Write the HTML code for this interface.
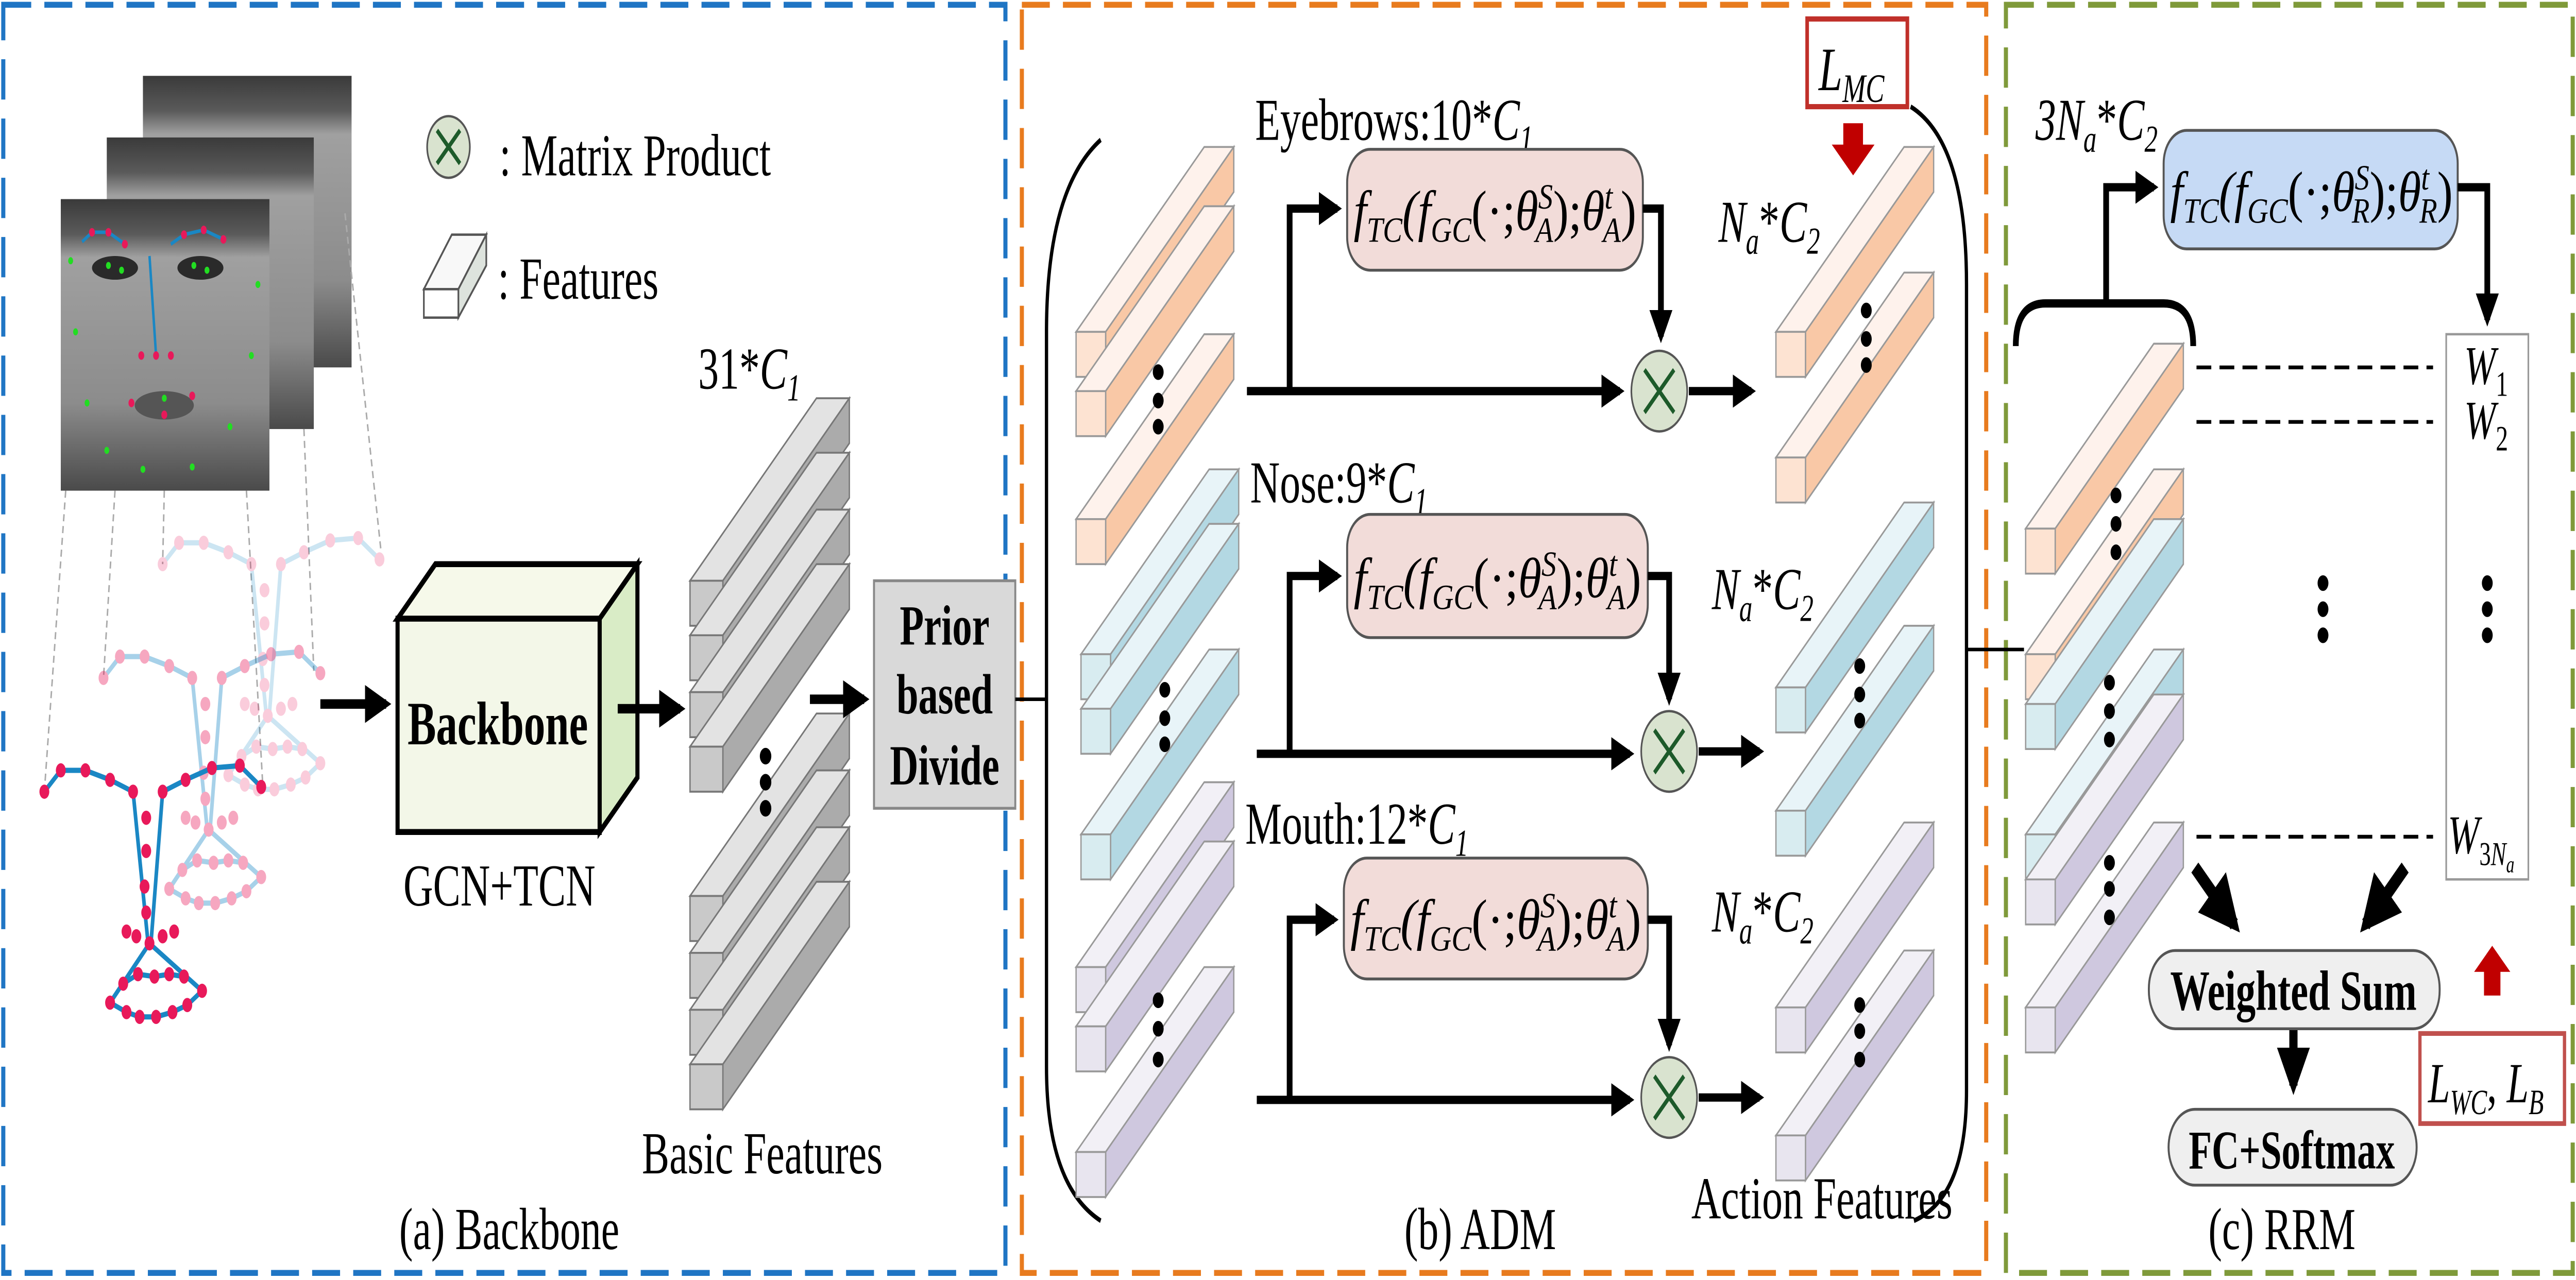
<!DOCTYPE html>
<html><head><meta charset="utf-8"><style>html,body{margin:0;padding:0;background:#fff;width:100%;height:100%;overflow:hidden}svg{display:block;position:fixed;left:0;top:0;width:100vw;height:100vh}</style></head><body>
<svg xmlns="http://www.w3.org/2000/svg" viewBox="0 0 1568 540" preserveAspectRatio="none" font-family="'Liberation Serif', serif">
<defs>
<marker id="ah" markerWidth="4" markerHeight="4" refX="3.2" refY="2" orient="auto" markerUnits="strokeWidth"><path d="M0,0 L4,2 L0,4 z" fill="#000"/></marker>
<g id="bg"><polygon points="0,0 77,-77 97,-77 20,0" fill="#e3e3e3" stroke="#777" stroke-width="0.8"/><polygon points="20,0 97,-77 97,-58 20,19" fill="#ababab" stroke="#777" stroke-width="0.8"/><rect x="0" y="0" width="20" height="19" fill="#c9c9c9" stroke="#777" stroke-width="0.8"/></g>
<g id="bo"><polygon points="0,0 78,-78 96,-78 18,0" fill="#fef2ec" stroke="#999" stroke-width="0.8"/><polygon points="18,0 96,-78 96,-59 18,19" fill="#f9c8a6" stroke="#999" stroke-width="0.8"/><rect x="0" y="0" width="18" height="19" fill="#fde3d2" stroke="#999" stroke-width="0.8"/></g>
<g id="bb"><polygon points="0,0 78,-78 96,-78 18,0" fill="#e8f4f8" stroke="#999" stroke-width="0.8"/><polygon points="18,0 96,-78 96,-59 18,19" fill="#b3d8e3" stroke="#999" stroke-width="0.8"/><rect x="0" y="0" width="18" height="19" fill="#d8ecf0" stroke="#999" stroke-width="0.8"/></g>
<g id="bp"><polygon points="0,0 78,-78 96,-78 18,0" fill="#f2f0f6" stroke="#999" stroke-width="0.8"/><polygon points="18,0 96,-78 96,-59 18,19" fill="#cfc8df" stroke="#999" stroke-width="0.8"/><rect x="0" y="0" width="18" height="19" fill="#e8e5ef" stroke="#999" stroke-width="0.8"/></g>
<g id="skel">
<g fill="none" stroke="#1a87c4" stroke-width="2.2">
<polyline points="27,334 37,325 52,325 67,329 81,334"/><polyline points="99,334 113,329 129,324 146,323 159,332"/>
<line x1="81" y1="334" x2="90" y2="397"/><line x1="99" y1="334" x2="92" y2="397"/>
<line x1="91" y1="398" x2="67" y2="423"/><line x1="91" y1="398" x2="123" y2="418"/>
<polyline points="67,423 77,427 85,429 95,429 105,427 114,424 123,418"/>
<polyline points="75,415 84,411 94,412 103,411 112,412"/>
</g>
<g fill="#e8195a">
<circle cx="27" cy="334" r="3"/><circle cx="37" cy="325" r="3"/><circle cx="52" cy="325" r="3"/><circle cx="67" cy="329" r="3"/><circle cx="81" cy="334" r="3"/>
<circle cx="99" cy="334" r="3"/><circle cx="113" cy="329" r="3"/><circle cx="129" cy="324" r="3"/><circle cx="146" cy="323" r="3"/><circle cx="159" cy="332" r="3"/>
<circle cx="89" cy="345" r="3"/><circle cx="89" cy="359" r="3"/><circle cx="88" cy="374" r="3"/><circle cx="89" cy="385" r="3"/>
<circle cx="77" cy="393" r="3"/><circle cx="83" cy="395" r="3"/><circle cx="99" cy="395" r="3"/><circle cx="106" cy="393" r="3"/><circle cx="91" cy="398" r="3"/>
<circle cx="67" cy="423" r="3"/><circle cx="77" cy="427" r="3"/><circle cx="85" cy="429" r="3"/><circle cx="95" cy="429" r="3"/><circle cx="105" cy="427" r="3"/><circle cx="114" cy="424" r="3"/><circle cx="123" cy="418" r="3"/>
<circle cx="75" cy="415" r="3"/><circle cx="84" cy="411" r="3"/><circle cx="94" cy="412" r="3"/><circle cx="103" cy="411" r="3"/><circle cx="112" cy="412" r="3"/>
</g></g>
<linearGradient id="fg" x1="0" y1="0" x2="0" y2="1"><stop offset="0" stop-color="#3a3a3a"/><stop offset="0.12" stop-color="#5a5a5a"/><stop offset="0.2" stop-color="#a0a0a0"/><stop offset="0.7" stop-color="#8c8c8c"/><stop offset="1" stop-color="#4a4a4a"/></linearGradient>
</defs>

<rect x="2" y="2" width="610" height="535" fill="none" stroke="#1f75c4" stroke-width="2.5" stroke-dasharray="17,8"/>
<rect x="622" y="2" width="587" height="535" fill="none" stroke="#e87b1e" stroke-width="2.5" stroke-dasharray="17,8"/>
<rect x="1221" y="2" width="345" height="535" fill="none" stroke="#7f9a3a" stroke-width="2.5" stroke-dasharray="17,8"/>

<rect x="87" y="32" width="127" height="123" fill="url(#fg)"/>
<rect x="65" y="58" width="126" height="123" fill="url(#fg)"/>
<rect x="37" y="84" width="127" height="123" fill="url(#fg)"/>
<g fill="#2a2a2a"><ellipse cx="70" cy="113" rx="14" ry="5"/><ellipse cx="122" cy="113" rx="14" ry="5"/><ellipse cx="100" cy="171" rx="18" ry="6" fill="#555"/></g>
<g fill="none" stroke="#1a87c4" stroke-width="1.5"><polyline points="50,102 56,98 66,98 76,103"/><polyline points="104,103 112,99 124,97 136,101"/><line x1="91" y1="108" x2="95" y2="150"/></g>
<g fill="#e8195a"><circle cx="56" cy="98" r="1.8"/><circle cx="66" cy="98" r="1.8"/><circle cx="76" cy="103" r="1.8"/><circle cx="112" cy="99" r="1.8"/><circle cx="124" cy="97" r="1.8"/><circle cx="136" cy="101" r="1.8"/><circle cx="95" cy="150" r="1.8"/><circle cx="86" cy="150" r="1.8"/><circle cx="104" cy="150" r="1.8"/><circle cx="80" cy="170" r="1.8"/><circle cx="100" cy="175" r="1.8"/><circle cx="117" cy="167" r="1.8"/></g>
<g fill="#22dd22"><circle cx="43" cy="110" r="1.5"/><circle cx="46" cy="140" r="1.5"/><circle cx="53" cy="170" r="1.5"/><circle cx="65" cy="190" r="1.5"/><circle cx="87" cy="198" r="1.5"/><circle cx="117" cy="197" r="1.5"/><circle cx="140" cy="180" r="1.5"/><circle cx="153" cy="150" r="1.5"/><circle cx="157" cy="120" r="1.5"/><circle cx="66" cy="112" r="1.5"/><circle cx="74" cy="114" r="1.5"/><circle cx="118" cy="112" r="1.5"/><circle cx="126" cy="114" r="1.5"/><circle cx="100" cy="168" r="1.5"/></g>
<g fill="none" stroke="#aaa" stroke-width="0.9" stroke-dasharray="3,2">
<line x1="40" y1="207" x2="27" y2="334"/><line x1="70" y1="207" x2="63" y2="286"/><line x1="100" y1="207" x2="99" y2="238"/><line x1="150" y1="207" x2="160" y2="332"/><line x1="185" y1="181" x2="191" y2="283"/><line x1="210" y1="90" x2="232" y2="233"/>
</g>
<use href="#skel" transform="translate(72,-96)" opacity="0.22"/>
<use href="#skel" transform="translate(36,-48)" opacity="0.38"/>
<use href="#skel"/>

<circle cx="273" cy="62" r="13" fill="#d9e3cf" stroke="#555" stroke-width="1"/>
<path d="M266,55 L280,69 M280,55 L266,69" stroke="#1d5a2a" stroke-width="2"/>
<text x="304" y="74" font-size="25">: Matrix Product</text>
<polygon points="258,122 275,99 296,99 279,122" fill="#f8f8f8" stroke="#555" stroke-width="1"/>
<polygon points="279,122 296,99 296,112 279,134" fill="#dde3dd" stroke="#555" stroke-width="1"/>
<rect x="258" y="122" width="21" height="12" fill="#fff" stroke="#555" stroke-width="1"/>
<text x="303" y="126" font-size="25">: Features</text>

<line x1="195" y1="297" x2="235" y2="297" stroke="#000" stroke-width="4" marker-end="url(#ah)"/>
<polygon points="242,261 265,238 388,238 365,261" fill="#f6f9ea" stroke="#000" stroke-width="2.5"/>
<polygon points="365,261 388,238 388,328 365,351" fill="#d9ecc6" stroke="#000" stroke-width="2.5"/>
<rect x="242" y="261" width="123" height="90" fill="#f3f7e8" stroke="#000" stroke-width="2.5"/>
<text x="303" y="314" font-size="26" font-weight="bold" text-anchor="middle">Backbone</text>
<text x="304" y="382" font-size="25" text-anchor="middle">GCN+TCN</text>
<line x1="376" y1="299" x2="414" y2="299" stroke="#000" stroke-width="4" marker-end="url(#ah)"/>

<text x="425" y="164" font-size="25">31*<tspan font-style="italic">C</tspan><tspan font-style="italic" font-size="16" dy="5">1</tspan></text>
<use href="#bg" x="420" y="245"/><use href="#bg" x="420" y="268"/><use href="#bg" x="420" y="292"/><use href="#bg" x="420" y="315"/>
<use href="#bg" x="420" y="378"/><use href="#bg" x="420" y="402"/><use href="#bg" x="420" y="426"/><use href="#bg" x="420" y="449"/>
<g fill="#000"><circle cx="466" cy="319" r="3.5"/><circle cx="466" cy="330" r="3.5"/><circle cx="466" cy="341" r="3.5"/></g>
<text x="464" y="495" font-size="25" text-anchor="middle">Basic Features</text>
<line x1="493" y1="295" x2="526" y2="295" stroke="#000" stroke-width="4" marker-end="url(#ah)"/>
<rect x="532" y="245" width="86" height="96" fill="#d9d9d9" stroke="#888" stroke-width="1.2"/>
<g font-size="24" font-weight="bold" text-anchor="middle"><text x="575" y="272">Prior</text><text x="575" y="301">based</text><text x="575" y="331">Divide</text></g>
<line x1="618" y1="295" x2="637" y2="295" stroke="#000" stroke-width="1.5"/>
<text x="310" y="527" font-size="25" text-anchor="middle">(a) Backbone</text>

<path d="M670,59 Q637,80 637,140 L637,450 Q637,500 670,515" fill="none" stroke="#000" stroke-width="2"/>
<path d="M1163,45 Q1197,60 1197,120 L1197,460 Q1197,505 1165,515" fill="none" stroke="#000" stroke-width="2"/>

<use href="#bo" x="655" y="140"/><use href="#bo" x="655" y="165"/><use href="#bo" x="655" y="219"/>
<use href="#bb" x="658" y="276"/><use href="#bb" x="658" y="299"/><use href="#bb" x="658" y="352"/>
<use href="#bp" x="655" y="408"/><use href="#bp" x="655" y="433"/><use href="#bp" x="655" y="486"/>
<g fill="#000">
<circle cx="705" cy="157" r="3.3"/><circle cx="705" cy="169" r="3.3"/><circle cx="705" cy="180" r="3.3"/>
<circle cx="709" cy="291" r="3.3"/><circle cx="709" cy="303" r="3.3"/><circle cx="709" cy="314" r="3.3"/>
<circle cx="705" cy="422" r="3.3"/><circle cx="705" cy="434" r="3.3"/><circle cx="705" cy="447" r="3.3"/>
</g>

<g font-size="25">
<text x="764" y="59">Eyebrows:10*<tspan font-style="italic">C</tspan><tspan font-style="italic" font-size="16" dy="5">1</tspan></text>
<text x="761" y="212">Nose:9*<tspan font-style="italic">C</tspan><tspan font-style="italic" font-size="16" dy="5">1</tspan></text>
<text x="758" y="356">Mouth:12*<tspan font-style="italic">C</tspan><tspan font-style="italic" font-size="16" dy="5">1</tspan></text>
</g>

<g fill="#f2dcd9" stroke="#555" stroke-width="1.2">
<rect x="820" y="63" width="180" height="51" rx="14"/>
<rect x="820" y="217" width="183" height="52" rx="14"/>
<rect x="818" y="362" width="185" height="51" rx="14"/>
</g>
<g font-size="24" font-style="italic">
<text x="824" y="97" textLength="172" lengthAdjust="spacingAndGlyphs">f<tspan font-size="15" dy="5">TC</tspan><tspan dy="-5">(f</tspan><tspan font-size="15" dy="5">GC</tspan><tspan dy="-5" font-style="normal">(·;</tspan>θ<tspan font-size="15" dy="-9">S</tspan><tspan font-size="15" dx="-9" dy="14">A</tspan><tspan dy="-5" font-style="normal">);</tspan>θ<tspan font-size="15" dy="-9">t</tspan><tspan font-size="15" dx="-5" dy="14">A</tspan><tspan dy="-5" font-style="normal">)</tspan></text>
<text x="824" y="252" textLength="175" lengthAdjust="spacingAndGlyphs">f<tspan font-size="15" dy="5">TC</tspan><tspan dy="-5">(f</tspan><tspan font-size="15" dy="5">GC</tspan><tspan dy="-5" font-style="normal">(·;</tspan>θ<tspan font-size="15" dy="-9">S</tspan><tspan font-size="15" dx="-9" dy="14">A</tspan><tspan dy="-5" font-style="normal">);</tspan>θ<tspan font-size="15" dy="-9">t</tspan><tspan font-size="15" dx="-5" dy="14">A</tspan><tspan dy="-5" font-style="normal">)</tspan></text>
<text x="822" y="396" textLength="177" lengthAdjust="spacingAndGlyphs">f<tspan font-size="15" dy="5">TC</tspan><tspan dy="-5">(f</tspan><tspan font-size="15" dy="5">GC</tspan><tspan dy="-5" font-style="normal">(·;</tspan>θ<tspan font-size="15" dy="-9">S</tspan><tspan font-size="15" dx="-9" dy="14">A</tspan><tspan dy="-5" font-style="normal">);</tspan>θ<tspan font-size="15" dy="-9">t</tspan><tspan font-size="15" dx="-5" dy="14">A</tspan><tspan dy="-5" font-style="normal">)</tspan></text>
</g>

<g stroke="#000" stroke-width="3.5" fill="none">
<line x1="759" y1="165" x2="986" y2="165" marker-end="url(#ah)"/>
<polyline points="785,165 785,88 814,88" marker-end="url(#ah)"/>
<polyline points="1000,88 1011,88 1011,142" marker-end="url(#ah)"/>
<line x1="1028" y1="165" x2="1066" y2="165" marker-end="url(#ah)"/>
<line x1="765" y1="318" x2="992" y2="318" marker-end="url(#ah)"/>
<polyline points="785,318 785,243 814,243" marker-end="url(#ah)"/>
<polyline points="1003,243 1016,243 1016,295" marker-end="url(#ah)"/>
<line x1="1034" y1="317" x2="1071" y2="317" marker-end="url(#ah)"/>
<line x1="765" y1="464" x2="992" y2="464" marker-end="url(#ah)"/>
<polyline points="785,464 785,388 812,388" marker-end="url(#ah)"/>
<polyline points="1003,388 1016,388 1016,441" marker-end="url(#ah)"/>
<line x1="1034" y1="463" x2="1071" y2="463" marker-end="url(#ah)"/>
</g>
<g>
<circle cx="1010" cy="165" r="17" fill="#d9e3cf" stroke="#555"/><path d="M1001,156 L1019,174 M1019,156 L1001,174" stroke="#1d5a2a" stroke-width="2"/>
<circle cx="1016" cy="317" r="17" fill="#d9e3cf" stroke="#555"/><path d="M1007,308 L1025,326 M1025,308 L1007,326" stroke="#1d5a2a" stroke-width="2"/>
<circle cx="1016" cy="463" r="17" fill="#d9e3cf" stroke="#555"/><path d="M1007,454 L1025,472 M1025,454 L1007,472" stroke="#1d5a2a" stroke-width="2"/>
</g>

<use href="#bo" x="1081" y="140"/><use href="#bo" x="1081" y="193"/>
<use href="#bb" x="1081" y="290"/><use href="#bb" x="1081" y="342"/>
<use href="#bp" x="1081" y="425"/><use href="#bp" x="1081" y="479"/>
<g fill="#000">
<circle cx="1136" cy="131" r="3.3"/><circle cx="1136" cy="143" r="3.3"/><circle cx="1136" cy="154" r="3.3"/>
<circle cx="1132" cy="281" r="3.3"/><circle cx="1132" cy="293" r="3.3"/><circle cx="1132" cy="304" r="3.3"/>
<circle cx="1132" cy="424" r="3.3"/><circle cx="1132" cy="435" r="3.3"/><circle cx="1132" cy="447" r="3.3"/>
</g>
<g font-size="25" font-style="italic">
<text x="1046" y="102">N<tspan font-size="16" dy="5">a</tspan><tspan dy="-5" font-style="normal">*</tspan>C<tspan font-size="16" dy="5">2</tspan></text>
<text x="1042" y="257">N<tspan font-size="16" dy="5">a</tspan><tspan dy="-5" font-style="normal">*</tspan>C<tspan font-size="16" dy="5">2</tspan></text>
<text x="1042" y="393">N<tspan font-size="16" dy="5">a</tspan><tspan dy="-5" font-style="normal">*</tspan>C<tspan font-size="16" dy="5">2</tspan></text>
</g>
<rect x="1100" y="8" width="61" height="37" fill="#fff" stroke="#c0302a" stroke-width="2.2"/>
<text x="1107" y="38" font-size="26" font-style="italic">L<tspan font-size="17" dy="5">MC</tspan></text>
<polygon points="1122,52 1134,52 1134,61 1141,61 1128,74 1115,61 1122,61" fill="#c00000"/>
<text x="1109" y="514" font-size="25" text-anchor="middle">Action Features</text>
<text x="901" y="527" font-size="25" text-anchor="middle">(b) ADM</text>
<line x1="1197" y1="274" x2="1232" y2="274" stroke="#000" stroke-width="1.5"/>

<text x="1239" y="59" font-size="25" font-style="italic">3N<tspan font-size="16" dy="5">a</tspan><tspan dy="-5" font-style="normal">*</tspan>C<tspan font-size="16" dy="5">2</tspan></text>
<rect x="1317" y="55" width="179" height="50" rx="14" fill="#c6daf5" stroke="#555" stroke-width="1.2"/>
<text x="1321" y="89" font-size="24" font-style="italic" textLength="172" lengthAdjust="spacingAndGlyphs">f<tspan font-size="15" dy="5">TC</tspan><tspan dy="-5">(f</tspan><tspan font-size="15" dy="5">GC</tspan><tspan dy="-5" font-style="normal">(·;</tspan>θ<tspan font-size="15" dy="-9">S</tspan><tspan font-size="15" dx="-9" dy="14">R</tspan><tspan dy="-5" font-style="normal">);</tspan>θ<tspan font-size="15" dy="-9">t</tspan><tspan font-size="15" dx="-5" dy="14">R</tspan><tspan dy="-5" font-style="normal">)</tspan></text>
<path d="M1227,146 Q1227,128 1245,128 L1317,128 Q1335,128 1335,146" fill="none" stroke="#000" stroke-width="3.5"/>
<g stroke="#000" stroke-width="3.5" fill="none">
<polyline points="1282,128 1282,79 1311,79" marker-end="url(#ah)"/>
<polyline points="1496,79 1514,79 1514,135" marker-end="url(#ah)"/>
</g>
<use href="#bo" x="1233" y="223"/><use href="#bo" x="1233" y="276"/>
<use href="#bb" x="1233" y="297"/><use href="#bb" x="1233" y="352"/>
<use href="#bp" x="1233" y="371"/><use href="#bp" x="1233" y="425"/>
<g fill="#000">
<circle cx="1288" cy="209" r="3.3"/><circle cx="1288" cy="221" r="3.3"/><circle cx="1288" cy="233" r="3.3"/>
<circle cx="1284" cy="288" r="3.3"/><circle cx="1284" cy="300" r="3.3"/><circle cx="1284" cy="312" r="3.3"/>
<circle cx="1284" cy="364" r="3.3"/><circle cx="1284" cy="375" r="3.3"/><circle cx="1284" cy="387" r="3.3"/>
<circle cx="1414" cy="246" r="3.3"/><circle cx="1414" cy="257" r="3.3"/><circle cx="1414" cy="268" r="3.3"/>
<circle cx="1514" cy="246" r="3.3"/><circle cx="1514" cy="257" r="3.3"/><circle cx="1514" cy="268" r="3.3"/>
</g>
<rect x="1489" y="141" width="50" height="230" fill="none" stroke="#999" stroke-width="1"/>
<g stroke="#000" stroke-width="1.6" stroke-dasharray="9,5">
<line x1="1337" y1="155" x2="1481" y2="155"/><line x1="1337" y1="178" x2="1481" y2="178"/><line x1="1337" y1="353" x2="1481" y2="353"/>
</g>
<g font-size="23" font-style="italic">
<text x="1500" y="162">W<tspan font-size="15" dy="5" font-style="normal">1</tspan></text>
<text x="1500" y="185">W<tspan font-size="15" dy="5" font-style="normal">2</tspan></text>
<text x="1490" y="360">W<tspan font-size="14" dy="5" font-style="normal">3</tspan><tspan font-size="14">N</tspan><tspan font-size="10" dy="3">a</tspan></text>
</g>
<g stroke="#000" stroke-width="6" fill="none">
<line x1="1336" y1="366" x2="1360" y2="390" marker-end="url(#ah)"/>
<line x1="1464" y1="366" x2="1440" y2="390" marker-end="url(#ah)"/>
<line x1="1396" y1="434" x2="1396" y2="458" marker-end="url(#ah)" stroke-width="5"/>
</g>
<rect x="1308" y="401" width="177" height="33" rx="16" fill="#efefef" stroke="#555" stroke-width="1.2"/>
<text x="1396" y="426" font-size="24" font-weight="bold" text-anchor="middle">Weighted Sum</text>
<rect x="1320" y="468" width="151" height="32" rx="16" fill="#efefef" stroke="#555" stroke-width="1.2"/>
<text x="1395" y="493" font-size="23" font-weight="bold" text-anchor="middle">FC+Softmax</text>
<polygon points="1512,420 1522,420 1522,410 1528,410 1517,399 1506,410 1512,410" fill="#c00000"/>
<rect x="1473" y="436" width="88" height="38" fill="#fff" stroke="#c0504d" stroke-width="2"/>
<text x="1478" y="465" font-size="24" font-style="italic">L<tspan font-size="15" dy="5">WC</tspan><tspan dy="-5" font-style="normal">, </tspan>L<tspan font-size="15" dy="5">B</tspan></text>
<text x="1389" y="527" font-size="25" text-anchor="middle">(c) RRM</text>
</svg>
</body></html>
